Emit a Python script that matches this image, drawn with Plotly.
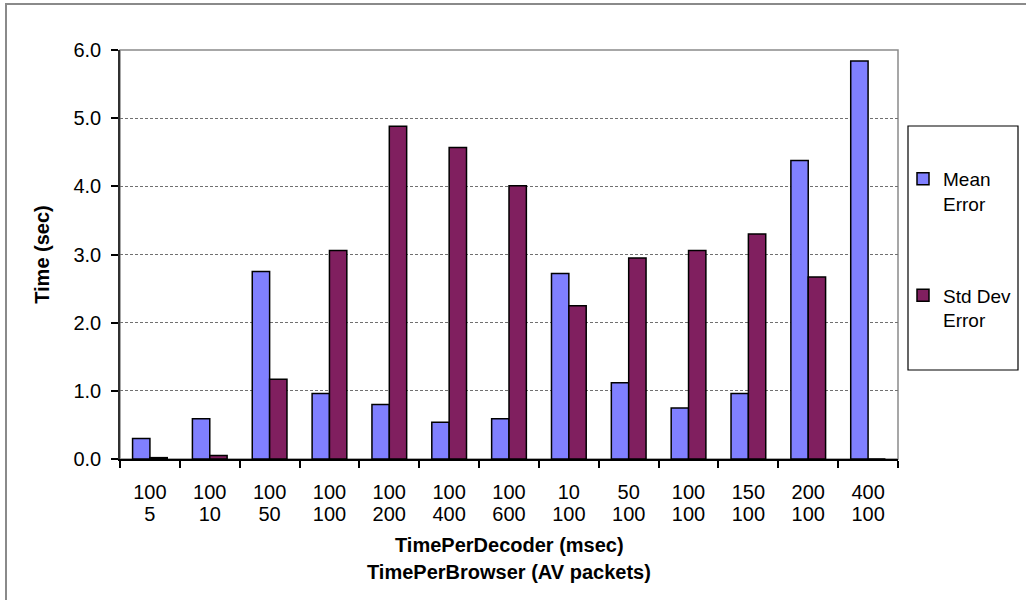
import plotly.graph_objects as go

decoder = ["100", "100", "100", "100", "100", "100", "100", "10", "50", "100", "150", "200", "400"]
browser = ["5", "10", "50", "100", "200", "400", "600", "100", "100", "100", "100", "100", "100"]
mean_error = [0.30, 0.59, 2.75, 0.96, 0.80, 0.54, 0.59, 2.72, 1.12, 0.75, 0.96, 4.38, 5.84]
std_error = [0.02, 0.05, 1.17, 3.06, 4.88, 4.57, 4.01, 2.25, 2.95, 3.06, 3.30, 2.67, 0.0]

idx = list(range(len(decoder)))
FONT = "Liberation Sans, Arial, sans-serif"
FS = 20

fig = go.Figure()
fig.add_trace(go.Bar(x=idx, y=mean_error, name="Mean<br>Error", legendgroup="a",
                     marker=dict(color="#8080FF", line=dict(color="black", width=1.5))))
fig.add_trace(go.Bar(x=idx, y=std_error, name="Std Dev<br>Error", legendgroup="b",
                     marker=dict(color="#801F5F", line=dict(color="black", width=1.5))))
# invisible helper trace for second line of category labels
fig.add_trace(go.Scatter(x=idx, y=[0] * len(idx), xaxis="x2", mode="markers",
                         marker=dict(opacity=0), showlegend=False, hoverinfo="skip"))

W, H = 1026, 600
L, R, T, B = 120, 128, 50, 141
pw, ph = W - L - R, H - T - B

def px(x):
    return (x - L) / pw

def py(y):
    return (H - B - y) / ph

fig.update_layout(
    template="none",
    width=W, height=H,
    margin=dict(l=L, r=R, t=T, b=B, autoexpand=False),
    paper_bgcolor="white", plot_bgcolor="white",
    font=dict(family=FONT, size=FS, color="black"),
    barmode="group", bargap=0.42, bargroupgap=0,
    showlegend=True,
    legend=dict(x=px(903), y=py(160), xanchor="left", yanchor="top",
                traceorder="grouped", tracegroupgap=64, valign="top",
                bgcolor="rgba(0,0,0,0)", borderwidth=0,
                font=dict(family=FONT, size=19), itemwidth=30),
    xaxis=dict(range=[-0.5, len(idx) - 0.5], tickvals=idx, ticktext=decoder,
               ticks="", showgrid=False, zeroline=False, automargin=False,
               showline=True, linecolor="black", linewidth=1.5,
               ticklabelstandoff=14,
               minor=dict(tickvals=[i - 0.5 for i in range(len(idx) + 1)],
                          ticks="outside", ticklen=7, tickcolor="black", tickwidth=1.5,
                          showgrid=False),
               tickfont=dict(size=FS)),
    xaxis2=dict(overlaying="x", anchor="y", side="bottom", automargin=False,
                range=[-0.5, len(idx) - 0.5], tickvals=idx, ticktext=browser,
                ticks="", showgrid=False, zeroline=False, showline=False,
                ticklabelstandoff=41, tickfont=dict(size=FS)),
    yaxis=dict(range=[0, 6], tickvals=[0, 1, 2, 3, 4, 5, 6], tickformat=".1f",
               ticks="outside", ticklen=7, tickcolor="black", tickwidth=1.5,
               showline=True, linecolor="#303030", linewidth=1.5, automargin=False,
               showgrid=True, gridcolor="#707070", gridwidth=1, griddash="3px,2px",
               zeroline=False, ticklabelstandoff=6,
               title=dict(text="<b>Time (sec)</b>", font=dict(size=FS), standoff=18)),
)

shapes = [
    # plot area border (gray)
    dict(type="rect", xref="paper", yref="paper", x0=0, x1=1, y0=0, y1=1,
         line=dict(color="#8a8a8a", width=1.5), layer="below"),
    # legend box
    dict(type="rect", xref="paper", yref="paper", x0=px(908), x1=px(1018),
         y0=py(370), y1=py(126), line=dict(color="black", width=1.2), layer="below"),
    # outer chart frame
    dict(type="rect", xref="paper", yref="paper", x0=px(6), x1=px(1032),
         y0=py(606), y1=py(4), line=dict(color="#8a8a8a", width=2), layer="below"),
]
fig.update_layout(shapes=shapes)

fig.add_annotation(text="<b>TimePerDecoder (msec)</b>", xref="paper", yref="paper",
                   x=0.5, y=py(545), xanchor="center", yanchor="middle",
                   showarrow=False, font=dict(size=FS))
fig.add_annotation(text="<b>TimePerBrowser (AV packets)</b>", xref="paper", yref="paper",
                   x=0.5, y=py(572), xanchor="center", yanchor="middle",
                   showarrow=False, font=dict(size=FS))

fig.write_html("out.html")
